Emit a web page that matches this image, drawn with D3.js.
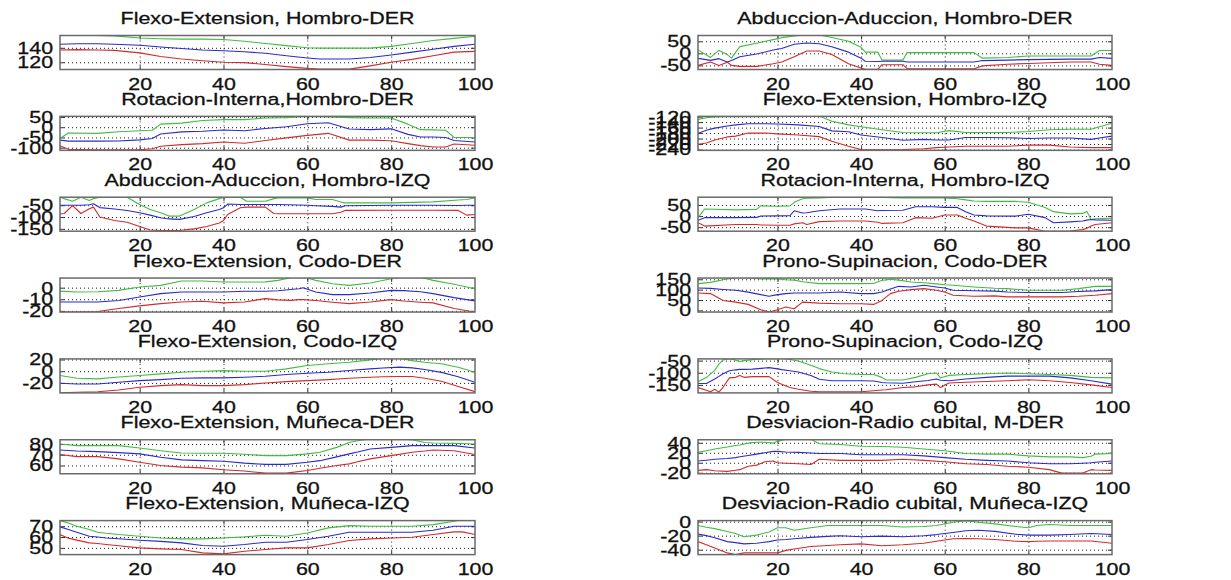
<!DOCTYPE html>
<html><head><meta charset="utf-8">
<script src="https://cdn.jsdelivr.net/npm/d3@7"></script>
<style>
body{margin:0;background:#fff}
svg{display:block}
text{font-family:"Liberation Sans",Arial,sans-serif;font-size:17px;fill:#111;stroke:#111;stroke-width:0.3px}
</style>
</head><body>
<svg id="c" width="1231" height="580"></svg>
<script>
// ---------- DATA ----------
const xTicks = [20, 40, 60, 80, 100];

// Row 1 left: Flexo-Extension, Hombro-DER
const tL1 = "Flexo-Extension, Hombro-DER";
const domL1 = [110, 157];
const ytL1 = [120, 140];
const xL1 = [1,5,10,14,20,25,30,35,40,45,50,55,60,63,70,75,80,85,90,95,100];
const gL1 = [157,157,157,156.5,153.5,152.5,152,152,151.5,149,146,143,140,139.5,139.5,139.5,142,146,150,153,156];
const bL1 = [145,145.5,145.5,145,143.5,141,139,137,136,134.5,132.5,129,126,124.5,124.5,126.5,130,134,138,142,145];
const rL1 = [137,137.5,137,136.5,133,128,124.5,122,120,119.5,117,114,111.5,110.5,110.5,115,120,124,129,134,135];

// Row 1 right: Abduccion-Aduccion, Hombro-DER
const tR1 = "Abduccion-Aduccion, Hombro-DER";
const domR1 = [-67, 74];
const ytR1 = [-50, 0, 50];
const xR1 = [1,4,6,8,9,11,15,19,21,24,27,30,33,37,40,41,44,45,50,51,60,67,69,75,80,90,95,97,100];
const gR1 = [14,-17,12,-5,-20,28,42,57,65,72,76,76,66,50,25,5,5,-28,-28,3,3,3,-20,-17,-11,-11,-11,12,12];
const bR1 = [-21,-29,-22,-36,-30,-14,-3,14,20,38,43,40,27,5,-20,-33,-34,-33,-33,-36,-36,-36,-30,-28,-26,-24,-24,-17,-21];
const rR1 = [-50,-36,-50,-37,-50,-54,-54,-43,-36,-14,10,10,-5,-43,-61,-66,-66,-47,-47,-63,-64,-64,-52,-45,-42,-36,-36,-45,-50];

// Row 2 left: Rotacion-Interna,Hombro-DER
const tL2 = "Rotacion-Interna,Hombro-DER";
const domL2 = [-113, 53];
const ytL2 = [-100, -50, 0, 50];
const xL2 = [1,3,10,15,20,23,25,30,35,40,45,50,55,60,65,70,75,80,84,87,90,93,95,100];
const gL2 = [-55,-28,-30,-22,-17,-15,15,20,33,37,37,45,47,52,50,47,45,45,15,-12,-13,-15,-50,-50];
const bL2 = [-63,-68,-68,-67,-62,-55,-33,-23,-20,-14,-17,-6,2,17,22,-9,-12,-8,-35,-48,-48,-50,-65,-72];
const rL2 = [-90,-108,-110,-110,-110,-105,-93,-85,-80,-72,-78,-65,-52,-40,-30,-63,-63,-66,-80,-90,-97,-97,-82,-88];

// Row 2 right: Flexo-Extension, Hombro-IZQ
const tR2 = "Flexo-Extension, Hombro-IZQ";
const domR2 = [-243, -119];
const ytR2 = [-240, -220, -200, -180, -160, -140, -120];
const xR2 = [1,3,5,8,10,13,17,20,25,30,33,37,40,45,50,55,58,61,65,70,75,80,85,90,95,97,100];
const gR2 = [-130,-124,-121,-120,-120,-120,-120,-115,-113,-118,-137,-150,-157,-168,-178,-179,-179,-171,-178,-178,-178,-174,-168,-166,-166,-157,-144];
const bR2 = [-181,-170,-162,-154,-150,-146,-146,-147,-150,-156,-172,-175,-187,-196,-206,-203,-205,-205,-196,-196,-197,-200,-198,-198,-203,-198,-191];
const rR2 = [-221,-216,-205,-194,-191,-180,-180,-183,-187,-193,-210,-228,-240,-241,-240,-237,-233,-231,-228,-228,-228,-224,-224,-231,-233,-233,-233];

// Row 3 left: Abduccion-Aduccion, Hombro-IZQ
const tL3 = "Abduccion-Aduccion, Hombro-IZQ";
const domL3 = [-160, -16];
const ytL3 = [-150, -100, -50];
const xL3 = [1,2,4,6,8,9,10.5,14,17,20,22.5,25,27,29.5,33,36,39,40,41,44,45.5,50,52,53,60,62,66,68,69,80,90,96,98,100];
const gL3 = [-16,-22,-33,-16,-30,-22,-16,-16,-16,-47,-68,-82,-96,-96,-68,-40,-22,-17,-16,-16,-33,-33,-22,-19,-19,-26,-26,-36,-40,-40,-36,-28,-26,-19];
const bL3 = [-50,-50,-50,-50,-48,-44,-60,-66,-72,-82,-92,-103,-108,-110,-98,-82,-68,-61,-45,-47,-47,-47,-47,-47,-50,-52,-55,-58,-52,-50,-50,-51,-50,-50];
const rL3 = [-87,-85,-52,-85,-65,-58,-100,-115,-122,-140,-155,-157,-157,-157,-150,-140,-125,-115,-89,-61,-58,-58,-85,-86,-86,-86,-86,-80,-72,-71,-71,-72,-92,-89];

// Row 3 right: Rotacion-Interna, Hombro-IZQ
const tR3 = "Rotacion-Interna, Hombro-IZQ";
const domR3 = [-68, 85];
const ytR3 = [-50, 0, 50];
const xR3 = [1,2.6,10,15,16,20,23,24,26,27,30,35,41,44,45,50,53,57,60,63,65,67,70,77,80,84,86,90,93,94,95,96,100];
const gR3 = [-7,32,28,30,46,44,46,62,78,80,82,86,86,86,84,82,82,82,82,78,73,68,66,66,62,39,20,10,12,21,-15,-12,-10];
const bR3 = [-19,-7,-7,-6,0,1,2,24,14,15,24,32,32,24,25,26,42,42,39,39,20,5,1,0,8,-7,-30,-26,-22,-18,-15,-17,-19];
const rR3 = [-30,-45,-38,-38,-40,-41,-41,-35,-30,-38,-25,-22,-22,-28,-33,-30,-7,-10,5,5,-10,-22,-45,-53,-53,-68,-68,-67,-61,-55,-45,-38,-30];

// Row 4 left: Flexo-Extension, Codo-DER
const tL4 = "Flexo-Extension, Codo-DER";
const domL4 = [-21, 8.3];
const ytL4 = [-20, -10, 0];
const xL4 = [1,5,10,15,20,25,30,35,40,45,50,53,56,58,59,62,66,70,75,80,83,87,90,95,100];
const gL4 = [-3,-3.7,-3.5,-2.3,0.6,2,5.7,5.7,4.9,4.9,5,6.3,8.6,9.5,9.5,6.3,3.4,2,4,7.7,9,9,6.3,2.9,-0.9];
const bL4 = [-12.3,-12.3,-12.3,-11,-8,-5.1,-3.7,-3.7,-3.7,-3.1,-3.1,-2.7,-1.6,-0.9,0,-3.7,-6,-6,-4.6,-2.3,-2.5,-3.5,-5.1,-8.6,-11.4];
const rL4 = [-20.9,-20.9,-20.5,-18,-15.7,-13.7,-12.3,-11.7,-13.1,-12.3,-9.4,-10.5,-10.9,-10.3,-10.3,-11,-12.5,-13.7,-12.3,-10.3,-11.5,-12.5,-13.1,-18,-20.9];

// Row 4 right: Prono-Supinacion, Codo-DER
const tR4 = "Prono-Supinacion, Codo-DER";
const domR4 = [-8, 156];
const ytR4 = [0, 50, 100, 150];
const xR4 = [1,4,7,10,13,16,18,20,22,24,26,30,35,40,43,45,47,49,52,55,58,60,62,67,72,75,80,88,92,96,100];
const gR4 = [129,135,148,158,158,152,153,152,148,146,138,129,129,129,130,145,150,146,137,133,128,124,121,113,107,105,97,97,105,116,116];
const bR4 = [108,106,101,97,88,76,68,76,81,84,84,84,89,81,81,89,103,116,113,121,113,108,97,95,93,89,86,86,91,94,100];
const rR4 = [84,81,48,40,29,3,-8,3,16,8,40,35,32,32,29,48,81,92,100,105,97,89,73,68,70,65,65,65,68,73,81];

// Row 5 left: Flexo-Extension, Codo-IZQ
const tL5 = "Flexo-Extension, Codo-IZQ";
const domL5 = [-37, 21];
const ytL5 = [-20, 0, 20];
const xL5 = [1,5,10,15,20,25,30,35,40,45,50,55,60,65,70,75,78,82,85,88,92,96,100];
const gL5 = [-7.4,-12,-13,-10,-7.4,-4.6,-1.7,0,1,0,0,4,9.7,12.6,15.4,19.4,22,22,18,15.4,12.6,6.9,-1.7];
const bL5 = [-20.6,-21.7,-21.7,-18.9,-16,-14.3,-12,-11.4,-11.4,-10.3,-8.6,-5.7,-3.4,-1.7,1.1,4,5.5,6.9,5.7,3,-2,-9.5,-18.9];
const rL5 = [-37,-36,-35,-32,-27.4,-24.6,-22.9,-24.6,-24.6,-22.9,-20,-17.7,-16,-14.3,-12,-10.3,-9.5,-9.1,-9.1,-12,-17,-26,-34.9];

// Row 5 right: Prono-Supinacion, Codo-IZQ
const tR5 = "Prono-Supinacion, Codo-IZQ";
const domR5 = [-183, -43];
const ytR5 = [-150, -100, -50];
const xR5 = [1,3,4,5,6,7,8.5,10,11,12,14,18,20,21,23,25,28,30,33,36,40,43,45,46,50,53,56,58,59,61,65,70,75,80,85,90,95,100];
const gR5 = [-137,-120,-105,-90,-65,-47,-42,-48,-54,-50,-46,-42,-42,-42,-45,-52,-69,-83,-97,-104,-107,-107,-119,-130,-130,-119,-104,-101,-121,-111,-107,-104,-101,-104,-107,-111,-119,-121];
const bR5 = [-144,-144,-135,-126,-115,-104,-92,-88,-86,-86,-85,-79,-84,-87,-92,-97,-111,-127,-133,-133,-133,-134,-140,-141,-143,-137,-132,-126,-131,-133,-126,-119,-114,-114,-114,-121,-133,-147];
const rR5 = [-161,-172,-178,-168,-180,-160,-121,-119,-111,-119,-116,-116,-140,-147,-161,-168,-176,-178,-178,-178,-178,-174,-171,-170,-161,-158,-150,-147,-161,-142,-139,-136,-133,-129,-133,-140,-150,-161];

// Row 6 left: Flexo-Extension, Muñeca-DER
const tL6 = "Flexo-Extension, Muñeca-DER";
const domL6 = [52.3, 84];
const ytL6 = [60, 70, 80];
const xL6 = [1,5,10,15,20,25,30,35,40,45,50,55,60,63,67,70,72,75,80,85,88,90,95,100];
const gL6 = [80,78.5,78.5,78.5,76.3,73.8,71.6,71.4,71.4,70.5,69.2,69.2,70.8,72.3,76.9,81.5,83,85,85,84,81.5,81,80.6,80];
const bL6 = [74.5,73.5,72.9,72,70.8,67.7,65.2,64.5,64,62.2,61,61,63,64.5,68,70.8,72.5,75.4,76.9,78.5,78.5,78.5,78.5,76.3];
const rL6 = [70.2,68.3,68.3,66.2,63,60,58.5,57.8,56,54.8,52.9,52.9,55.4,57.5,60,61.5,63.5,66.2,69.2,72.3,73.5,74.5,73.8,70.2];

// Row 6 right: Desviacion-Radio cubital, M-DER
const tR6 = "Desviacion-Radio cubital, M-DER";
const domR6 = [-22, 46];
const ytR6 = [-20, 0, 20, 40];
const xR6 = [1,3,5,8,10,11,13,15,17,19,20,22,25,28,30,35,40,45,50,55,60,65,70,75,80,85,88,90,93,95,96,100];
const gR6 = [20.7,24,27.6,31.5,34.5,35.5,39.3,41,41,39.3,42.8,47,47,47,38,36.6,33,32.4,31,27.6,24,18.6,17.2,17.2,13.8,11.7,11.7,11.7,10.3,13,17.2,18.6];
const bR6 = [3.4,5,6.9,8.5,10.3,12,14.5,17.2,20,22.8,22.8,21.5,20.7,19.5,18.6,18.6,15.9,15.9,15.9,13.8,10.3,6.9,4.8,3.4,0,-2,-2,-2,-1,0,1,3.4];
const rR6 = [-15.2,-13.8,-15.9,-17.2,-15,-13.8,-6.9,-4.8,2,3.4,0,-1,-2,-3.4,6.9,4.8,4.8,4.8,6.9,4.8,2,-2,-3.4,-6.9,-9,-13.8,-20.7,-20.7,-20.7,-13.8,-14.5,-15.2];

// Row 7 left: Flexo-Extension, Muñeca-IZQ
const tL7 = "Flexo-Extension, Muñeca-IZQ";
const domL7 = [43.8, 75.2];
const ytL7 = [50, 60, 70];
const xL7 = [1,3,5,8,10,12,15,20,25,30,35,40,45,50,55,60,65,70,75,80,85,90,95,97,100];
const gL7 = [75.2,73,70,66.9,64.5,63.5,62.3,60.8,59.2,58.3,58.3,59.2,60.2,61.7,60.8,63.8,68.5,70.6,70,70,70,71.5,74.6,76,76];
const bL7 = [69.4,67,64.5,60.8,60,59.2,58.5,57.1,56,54.6,52.2,51.5,53.1,55.2,55.2,57.7,60.8,64.5,64.5,64.5,64.5,66.3,70,70,70];
const rL7 = [62.3,59,57.2,54.6,54,53.1,52,50,49.1,48.5,45.4,44.5,46.9,48.5,50,50,53.1,56.8,58.3,59.2,59.8,62.3,64.8,64.8,62.3];

// Row 7 right: Desviacion-Radio cubital, Muñeca-IZQ
const tR7 = "Desviacion-Radio cubital, Muñeca-IZQ";
const domR7 = [-47, 1.4];
const ytR7 = [-40, -20, 0];
const xR7 = [1,3,5,8,10,12,15,18,20,22,24,28,32,35,40,45,50,55,58,62,65,68,72,77,80,82,85,90,95,100];
const gR7 = [-5.5,-8,-10,-14,-17,-21.6,-19.3,-14.7,-8.7,-8.7,-12.4,-8.7,-5.5,-5.5,-5.5,-5.5,-7.8,-6.9,-5.5,-0.9,1.4,-0.9,-3.2,-6.9,-8.7,-5.5,-4.1,-5.5,-5.5,-5.5];
const bR7 = [-17.9,-20,-23,-28.5,-30,-31.7,-30.8,-28.5,-26.2,-25.5,-24.5,-22.5,-21,-20.2,-21.6,-20.7,-21.6,-20.2,-18.5,-15.5,-13,-12.4,-14,-18,-19.3,-19.3,-19.3,-18.4,-17,-18.4];
const rR7 = [-28.5,-33,-37.7,-44.6,-46.9,-44.6,-44.6,-44.6,-44.6,-41,-39,-35.5,-34,-33,-31.7,-34.5,-33,-30.8,-28,-24.5,-24,-24.5,-25.5,-28,-28.5,-28,-27.6,-27.6,-27.6,-30.8];

// ---------- LAYOUT ----------
const panels = [
  {t:tL1,d:domL1,yt:ytL1,x:xL1,g:gL1,b:bL1,r:rL1,col:0,row:0},
  {t:tR1,d:domR1,yt:ytR1,x:xR1,g:gR1,b:bR1,r:rR1,col:1,row:0},
  {t:tL2,d:domL2,yt:ytL2,x:xL2,g:gL2,b:bL2,r:rL2,col:0,row:1},
  {t:tR2,d:domR2,yt:ytR2,x:xR2,g:gR2,b:bR2,r:rR2,col:1,row:1},
  {t:tL3,d:domL3,yt:ytL3,x:xL3,g:gL3,b:bL3,r:rL3,col:0,row:2},
  {t:tR3,d:domR3,yt:ytR3,x:xR3,g:gR3,b:bR3,r:rR3,col:1,row:2},
  {t:tL4,d:domL4,yt:ytL4,x:xL4,g:gL4,b:bL4,r:rL4,col:0,row:3},
  {t:tR4,d:domR4,yt:ytR4,x:xR4,g:gR4,b:bR4,r:rR4,col:1,row:3},
  {t:tL5,d:domL5,yt:ytL5,x:xL5,g:gL5,b:bL5,r:rL5,col:0,row:4},
  {t:tR5,d:domR5,yt:ytR5,x:xR5,g:gR5,b:bR5,r:rR5,col:1,row:4},
  {t:tL6,d:domL6,yt:ytL6,x:xL6,g:gL6,b:bL6,r:rL6,col:0,row:5},
  {t:tR6,d:domR6,yt:ytR6,x:xR6,g:gR6,b:bR6,r:rR6,col:1,row:5},
  {t:tL7,d:domL7,yt:ytL7,x:xL7,g:gL7,b:bL7,r:rL7,col:0,row:6},
  {t:tR7,d:domR7,yt:ytR7,x:xR7,g:gR7,b:bR7,r:rR7,col:1,row:6}
];

const colX = [[60, 475], [698, 1112]];
const TOP0 = 35.5, PITCH = 80.85, PH = 34;
const SX = 1.26;
const FONT = '"Liberation Sans", Arial, sans-serif';
const colors = {g:'#41bd41', b:'#2b2bc9', r:'#d22b2b'};
const fmt = d => String(d);   // plain hyphen-minus as in the original

const svg = d3.select('#c');
svg.append('rect').attr('width',1231).attr('height',580).attr('fill','#fff');
const defs = svg.append('defs');

panels.forEach((p, i) => {
  const [x0, x1] = colX[p.col];
  const top = TOP0 + p.row * PITCH;
  const W = x1 - x0;
  const x = d3.scaleLinear().domain([1, 100]).range([x0, x1]);
  const y = d3.scaleLinear().domain(p.d).range([top + PH, top]);
  const g = svg.append('g');

  defs.append('clipPath').attr('id', 'cp' + i)
    .append('rect').attr('x', x0).attr('y', top).attr('width', W).attr('height', PH);

  // vertical dotted grid
  g.append('g').attr('transform', `translate(0,${top + PH})`)
    .call(d3.axisBottom(x).tickValues([20, 40, 60, 80]).tickSize(-PH).tickFormat(''))
    .call(s => { s.select('.domain').remove();
      s.selectAll('line').attr('stroke', '#000').attr('stroke-width', 0.9).attr('stroke-dasharray', '1,3'); });
  // horizontal dotted grid
  const ytIn = p.yt.filter(v => v > p.d[0] && v < p.d[1]);
  g.append('g').attr('transform', `translate(${x0},0)`)
    .call(d3.axisLeft(y).tickValues(ytIn).tickSize(-W).tickFormat(''))
    .call(s => { s.select('.domain').remove();
      s.selectAll('line').attr('stroke', '#000').attr('stroke-width', 0.9).attr('stroke-dasharray', '1,3'); });

  // small inside tick marks
  const tk = (axis, tr) => g.append('g').attr('transform', tr).call(axis)
    .call(s => { s.select('.domain').remove(); s.selectAll('line').attr('stroke', '#333').attr('stroke-width', 1); });
  tk(d3.axisBottom(x).tickValues([20,40,60,80]).tickSize(-4).tickFormat(''), `translate(0,${top + PH})`);
  tk(d3.axisTop(x).tickValues([20,40,60,80]).tickSize(-4).tickFormat(''), `translate(0,${top})`);
  tk(d3.axisLeft(y).tickValues(ytIn).tickSize(-4).tickFormat(''), `translate(${x0},0)`);
  tk(d3.axisRight(y).tickValues(ytIn).tickSize(-4).tickFormat(''), `translate(${x1},0)`);

  // lines
  const lg = g.append('g').attr('clip-path', `url(#cp${i})`);
  ['g', 'b', 'r'].forEach(k => {
    const line = d3.line().x((d, j) => x(p.x[j])).y(d => y(d));
    lg.append('path').attr('d', line(p[k])).attr('fill', 'none')
      .attr('stroke', colors[k]).attr('stroke-width', 1.1).attr('stroke-linejoin', 'round');
  });

  // box
  g.append('rect').attr('x', x0).attr('y', top).attr('width', W).attr('height', PH)
    .attr('fill', 'none').attr('stroke', '#6a6a6a').attr('stroke-width', 1.5);

  // x tick labels
  g.append('g').attr('transform', `translate(0,${top + PH})`)
    .call(d3.axisBottom(x).tickValues(xTicks).tickSize(0).tickPadding(8).tickFormat(fmt))
    .call(s => { s.select('.domain').remove();
      s.attr('font-size', 17).attr('font-family', FONT);
      s.selectAll('text').attr('fill', '#111').attr('transform', `scale(${SX},1)`); });

  // y tick labels
  g.append('g').attr('transform', `translate(${x0},0)`)
    .call(d3.axisLeft(y).tickValues(p.yt).tickSize(0).tickPadding(5.5).tickFormat(fmt))
    .call(s => { s.select('.domain').remove();
      s.attr('font-size', 17).attr('font-family', FONT);
      s.selectAll('text').attr('fill', '#111').attr('transform', `scale(${SX},1)`); });

  // title
  g.append('text').attr('transform', `translate(${(x0 + x1) / 2},${top - 11.5}) scale(${SX},1)`)
    .attr('text-anchor', 'middle').attr('font-size', 17).attr('font-family', FONT)
    .text(p.t);
});
</script>
</body></html>
